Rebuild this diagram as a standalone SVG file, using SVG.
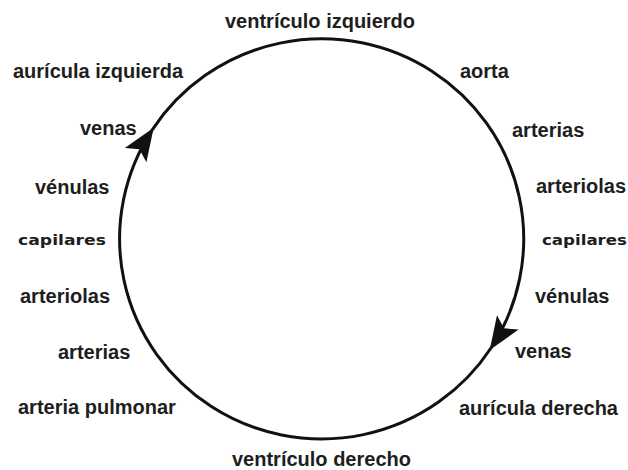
<svg xmlns="http://www.w3.org/2000/svg" width="628" height="470" viewBox="0 0 628 470">
<style>
  .lbl { font-family: "Liberation Sans", Arial, sans-serif; font-weight: bold; font-size: 20px; fill: #1e1e1e; }
  .cap { font-family: "DejaVu Sans", sans-serif; font-weight: bold; font-size: 14px; fill: #1e1e1e; }
  .flow { fill: none; stroke: #111; stroke-width: 3; }
</style>
<defs>
  <marker id="arrow" markerUnits="userSpaceOnUse" markerWidth="40" markerHeight="40" viewBox="-30 -15 34 30" refX="0" refY="0" orient="auto">
    <path d="M2,0 L-26,-11 L-20,0 L-26,11 Z" fill="#111"/>
  </marker>
</defs>
<rect width="628" height="470" fill="#fff"/>
<g id="connectors">
  <path class="flow" d="M491,348 A202,200 0 1 1 152.4,129.6" marker-end="url(#arrow)"/>
  <path class="flow" d="M152.4,129.6 A202,200 0 0 1 491,348" marker-end="url(#arrow)"/>
</g>
<g id="ventriculo-izquierdo"><text class="lbl" x="225" y="28">ventrículo izquierdo</text></g>
<g id="aorta"><text class="lbl" x="460" y="78">aorta</text></g>
<g id="arterias-r"><text class="lbl" x="512" y="137">arterias</text></g>
<g id="arteriolas-r"><text class="lbl" x="536" y="193">arteriolas</text></g>
<g id="capilares-r"><text class="cap" x="542" y="245" textLength="85" lengthAdjust="spacingAndGlyphs">capilares</text></g>
<g id="venulas-r"><text class="lbl" x="535" y="303">vénulas</text></g>
<g id="venas-r"><text class="lbl" x="515" y="358">venas</text></g>
<g id="auricula-derecha"><text class="lbl" x="459" y="415">aurícula derecha</text></g>
<g id="ventriculo-derecho"><text class="lbl" x="232" y="466">ventrículo derecho</text></g>
<g id="arteria-pulmonar"><text class="lbl" x="18" y="414">arteria pulmonar</text></g>
<g id="arterias-l"><text class="lbl" x="58" y="359">arterias</text></g>
<g id="arteriolas-l"><text class="lbl" x="20" y="303">arteriolas</text></g>
<g id="capilares-l"><text class="cap" x="18" y="245" textLength="88" lengthAdjust="spacingAndGlyphs">capilares</text></g>
<g id="venulas-l"><text class="lbl" x="35" y="194">vénulas</text></g>
<g id="venas-l"><text class="lbl" x="80" y="135">venas</text></g>
<g id="auricula-izquierda"><text class="lbl" x="13" y="78">aurícula izquierda</text></g>
</svg>
